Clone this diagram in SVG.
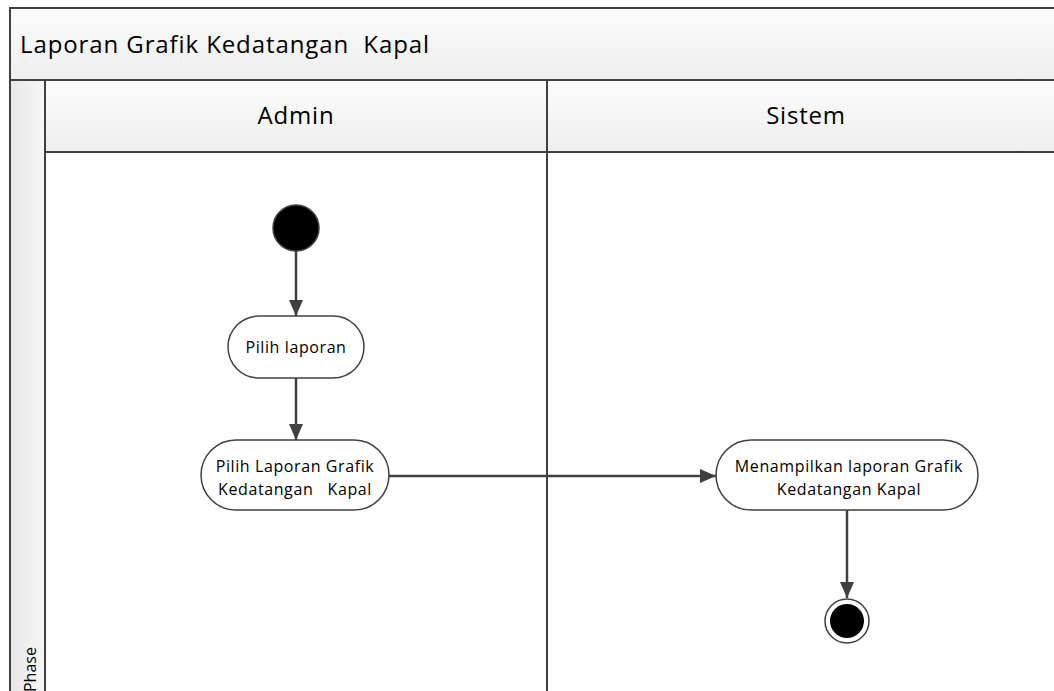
<svg xmlns="http://www.w3.org/2000/svg" width="1054" height="691" viewBox="0 0 1054 691">
  <style>
    .hdr { stroke: #404040; stroke-width: 2; }
    .pill { fill: #ffffff; stroke: #404040; stroke-width: 1.5; }
    .conn { stroke: #404040; stroke-width: 2.5; fill: none; }
    .t { font-family: "Open Sans", "Noto Sans", sans-serif; fill: #000; white-space: pre; }
    .lbl { font-size: 16px; letter-spacing: 0.6px; text-anchor: middle; }
    .lane { font-size: 24px; letter-spacing: 0.8px; text-anchor: middle; }
  </style>
  <defs>
    <linearGradient id="hdrGrad" x1="0" y1="0" x2="0" y2="1">
      <stop offset="0" stop-color="#fcfcfc"/>
      <stop offset="1" stop-color="#eeeeee"/>
    </linearGradient>
    <linearGradient id="sideGrad" x1="0" y1="0" x2="1" y2="0">
      <stop offset="0" stop-color="#e6e6e6"/>
      <stop offset="1" stop-color="#f8f8f8"/>
    </linearGradient>
    <marker id="arrow" viewBox="0 0 16 14" refX="16" refY="7" markerWidth="16" markerHeight="14" markerUnits="userSpaceOnUse" orient="auto">
      <path d="M0,0 L16,7 L0,14 z" fill="#404040"/>
    </marker>
  </defs>

  <rect width="1054" height="691" fill="#ffffff"/>

  <!-- swimlane frame -->
  <g id="pool">
    <rect x="10" y="8" width="1060" height="72" fill="url(#hdrGrad)" class="hdr"/>
    <text class="t" x="20" y="53" font-size="24" letter-spacing="0.9">Laporan Grafik Kedatangan  Kapal</text>
    <rect x="10" y="80" width="35" height="620" fill="url(#sideGrad)" class="hdr"/>
    <text class="t" font-size="16" transform="translate(36,692) rotate(-90)">Phase</text>
  </g>
  <g id="lane-admin">
    <rect x="45" y="80" width="502" height="72" fill="url(#hdrGrad)" class="hdr"/>
    <text class="t lane" x="296" y="124">Admin</text>
    <line x1="547" y1="152" x2="547" y2="700" class="hdr"/>
  </g>
  <g id="lane-sistem">
    <rect x="547" y="80" width="520" height="72" fill="url(#hdrGrad)" class="hdr"/>
    <text class="t lane" x="806" y="124">Sistem</text>
  </g>

  <!-- connectors -->
  <g id="connectors">
    <line x1="296" y1="250" x2="296" y2="316" class="conn" marker-end="url(#arrow)"/>
    <line x1="296" y1="378" x2="296" y2="440" class="conn" marker-end="url(#arrow)"/>
    <line x1="389" y1="476" x2="716" y2="476" class="conn" marker-end="url(#arrow)"/>
    <line x1="847" y1="510" x2="847" y2="598" class="conn" marker-end="url(#arrow)"/>
  </g>

  <g id="start">
    <circle cx="296" cy="228" r="23" fill="#000" stroke="#404040" stroke-width="1.5"/>
  </g>
  <g id="pilih-laporan">
    <rect x="228" y="316" width="136" height="62" rx="31" class="pill"/>
    <text class="t lbl" x="296" y="353">Pilih laporan</text>
  </g>
  <g id="pilih-grafik">
    <rect x="201" y="440" width="188" height="70" rx="35" class="pill"/>
    <text class="t lbl" x="295" y="472">Pilih Laporan Grafik</text>
    <text class="t lbl" x="295" y="495">Kedatangan   Kapal</text>
  </g>
  <g id="tampil-grafik">
    <rect x="716" y="440" width="262" height="70" rx="35" class="pill"/>
    <text class="t lbl" x="849" y="472">Menampilkan laporan Grafik</text>
    <text class="t lbl" x="849" y="495">Kedatangan Kapal</text>
  </g>
  <g id="end">
    <circle cx="847" cy="621" r="22" fill="#fff" stroke="#404040" stroke-width="1.5"/>
    <circle cx="847" cy="621" r="17" fill="#000"/>
  </g>
</svg>
